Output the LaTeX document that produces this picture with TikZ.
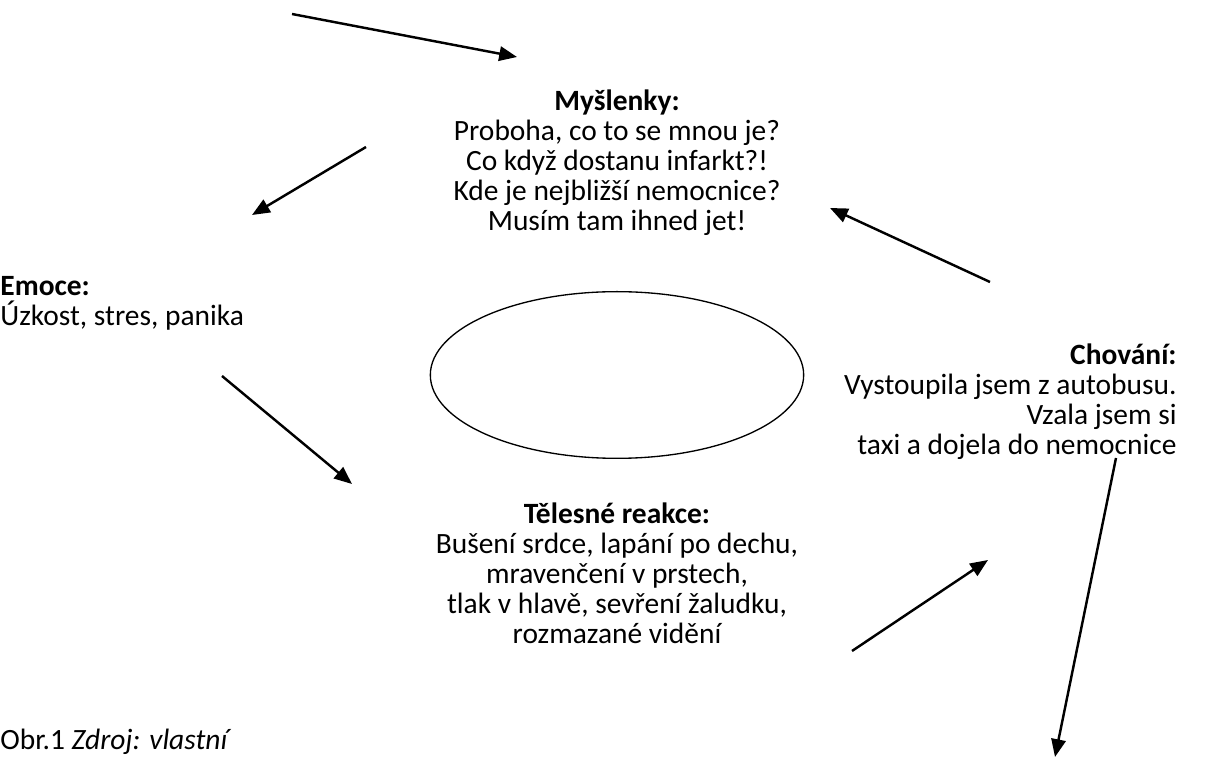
\documentclass[tikz,border=0pt]{standalone}
\usepackage{fontspec}
\setmainfont{Carlito}
\usetikzlibrary{arrows.meta,shapes.geometric,positioning}

\tikzset{
  blok/.style={inner sep=0pt, font=\fontsize{13.25pt}{13.5pt}\selectfont},
  sipka/.style={-{Triangle[length=8pt,width=6.5pt]}, line width=1.1pt},
}

\begin{document}
\begin{tikzpicture}[x=0.45pt, y=-0.45pt]
  \useasboundingbox (0,0) rectangle (1231,758);
  % text blocks
  \node[blok, align=center] (mysl) at (617,163)
    {\textbf{Myšlenky:}\\Proboha, co to se mnou je?\\Co když dostanu infarkt?!\\Kde je nejbližší nemocnice?\\Musím tam ihned jet!};
  \node[blok, align=left, anchor=west] (emoce) at (0,303)
    {\textbf{Emoce:}\\Úzkost, stres, panika};
  \node[blok, align=right, anchor=east] (chov) at (1177,402)
    {\textbf{Chování:}\\Vystoupila jsem z autobusu.\\Vzala jsem si\\taxi a dojela do nemocnice};
  \node[blok, align=center] (telo) at (617,573)
    {\textbf{Tělesné reakce:}\\Bušení srdce, lapání po dechu,\\mravenčení v prstech,\\tlak v hlavě, sevření žaludku,\\rozmazané vidění};
  \node[blok, anchor=west] (obr) at (0,742) {Obr.1 \textit{Zdroj: vlastní}};
  % ellipse in the middle
  \node[draw, ellipse, line width=0.6pt, minimum width=168pt, minimum height=75pt] (kruh) at (617,375) {};
  % arrow ends
  \coordinate (a1) at (292,14);   \coordinate (b1) at (517,57);
  \coordinate (a2) at (366,147);  \coordinate (b2) at (252,215);
  \coordinate (a3) at (222,376);  \coordinate (b3) at (352,484);
  \coordinate (a4) at (852,651);  \coordinate (b4) at (988,560);
  \coordinate (a5) at (990,282);  \coordinate (b5) at (830,208);
  \coordinate (a6) at (1116,458); \coordinate (b6) at (1055,757);
  % arrows
  \draw[sipka] (a1) -- (b1);
  \draw[sipka] (a2) -- (b2);
  \draw[sipka] (a3) -- (b3);
  \draw[sipka] (a4) -- (b4);
  \draw[sipka] (a5) -- (b5);
  \draw[sipka] (a6) -- (b6);
\end{tikzpicture}
\end{document}
